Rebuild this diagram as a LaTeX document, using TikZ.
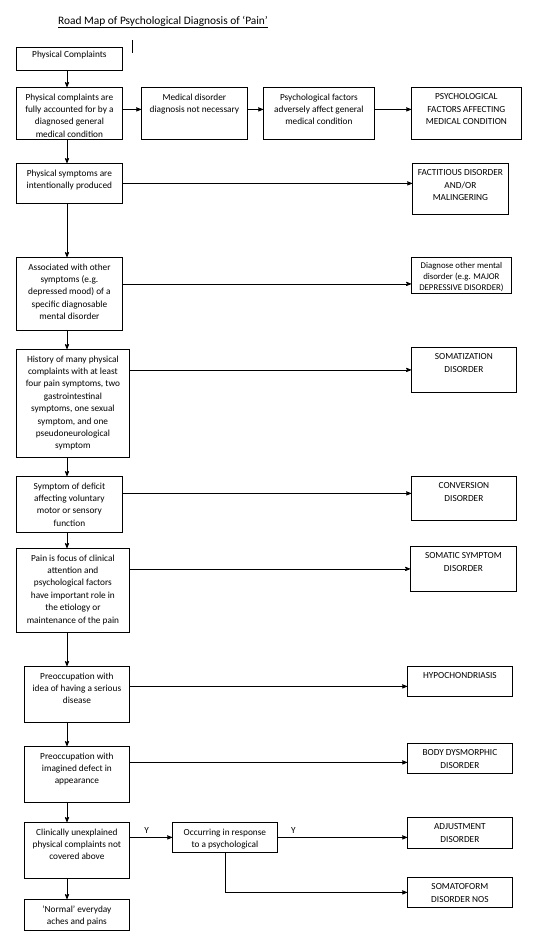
\documentclass[tikz,border=0pt]{standalone}
\usepackage{fontspec}
\setmainfont{Carlito}
\usetikzlibrary{arrows}
\tikzset{
    box/.style 2 args={
        draw,
        line width=0.8pt,
        minimum width=#1pt,
        minimum height=#2pt,
        anchor=north west,
        inner sep=0pt},
    txt/.style={
        anchor=north,
        align=center,
        inner xsep=2pt,
        inner ysep=6.5pt,
        font=\fontsize{9.3}{12.4}\selectfont},
    every edge/.style={
        draw,
        ->,>=stealth',
        line width=0.8pt}}

\begin{document}
\begin{tikzpicture}[x=1pt,y=-1pt]
    \useasboundingbox (0,0) rectangle (535,938);
    \node[anchor=west, inner sep=0pt, font=\fontsize{11.4}{14}\selectfont] (title) at (58,22) {\underline{Road Map of Psychological Diagnosis of ‘Pain’}};
    \draw[line width=0.8pt] (132,40) -- (132,53);
    \coordinate (spine) at (67,0);

    % top row
    \node[box={106}{23}, label={[txt, inner ysep=4pt]north:{Physical Complaints}}] (pc) at (16,47) {};
    \node[box={106}{52}, label={[txt]north:{Physical complaints are\\fully accounted for by a\\diagnosed general\\medical condition}}] (acc) at (16,87) {};
    \node[box={106}{52}, label={[txt]north:{Medical disorder\\diagnosis not necessary}}] (med) at (141,87) {};
    \node[box={111}{52}, label={[txt]north:{Psychological factors\\adversely affect general\\medical condition}}] (psy) at (263,87) {};
    \node[box={110}{52}, label={[txt]north:{PSYCHOLOGICAL\\FACTORS AFFECTING\\MEDICAL CONDITION}}] (pfmc) at (411,87) {};

    % left column
    \node[box={106}{40}, label={[txt]north:{Physical symptoms are\\intentionally produced}}] (int) at (16,163) {};
    \node[box={106}{73}, label={[txt]north:{Associated with other\\symptoms (e.g.\\depressed mood) of a\\specific diagnosable\\mental disorder}}] (assoc) at (16,257) {};
    \node[box={113}{108}, label={[txt]north:{History of many physical\\complaints with at least\\four pain symptoms, two\\gastrointestinal\\symptoms, one sexual\\symptom, and one\\pseudoneurological\\symptom}}] (hist) at (16,349) {};
    \node[box={106}{56}, label={[txt]north:{Symptom of deficit\\affecting voluntary\\motor or sensory\\function}}] (def) at (16,476) {};
    \node[box={113}{84}, label={[txt]north:{Pain is focus of clinical\\attention and\\psychological factors\\have important role in\\the etiology or\\maintenance of the pain}}] (pain) at (16,548) {};
    \node[box={105}{56}, label={[txt]north:{Preoccupation with\\idea of having a serious\\disease}}] (idea) at (24,666) {};
    \node[box={105}{56}, label={[txt]north:{Preoccupation with\\imagined defect in\\appearance}}] (img) at (24,746) {};
    \node[box={105}{56}, label={[txt]north:{Clinically unexplained\\physical complaints not\\covered above}}] (cli) at (24,822) {};
    \node[box={105}{31}, label={[txt]north:{‘Normal’ everyday\\aches and pains}}] (norm) at (24,899) {};
    \node[box={105}{30}, label={[txt]north:{Occurring in response\\to a psychological}}] (occ) at (172,822) {};

    % diagnoses
    \node[box={96}{51}, label={[txt]north:{FACTITIOUS DISORDER\\AND/OR\\MALINGERING}}] (fact) at (412,163) {};
    \node[box={100}{36}, label={[txt, inner ysep=5pt, font=\fontsize{8.8}{11.2}\selectfont]north:{Diagnose other mental\\disorder (e.g. MAJOR\\DEPRESSIVE DISORDER)}}] (diag) at (411,257) {};
    \node[box={105}{45}, label={[txt]north:{SOMATIZATION\\DISORDER}}] (somz) at (411,347) {};
    \node[box={105}{44}, label={[txt]north:{CONVERSION\\DISORDER}}] (conv) at (411,476) {};
    \node[box={106}{45}, label={[txt]north:{SOMATIC SYMPTOM\\DISORDER}}] (som) at (410,546) {};
    \node[box={105}{30}, label={[txt]north:{HYPOCHONDRIASIS}}] (hyp) at (407,666) {};
    \node[box={105}{30}, label={[txt]north:{BODY DYSMORPHIC\\DISORDER}}] (bdd) at (407,743) {};
    \node[box={105}{31}, label={[txt]north:{ADJUSTMENT\\DISORDER}}] (adj) at (407,817) {};
    \node[box={105}{30}, label={[txt]north:{SOMATOFORM\\DISORDER NOS}}] (nos) at (407,877) {};

    % down the left
    \draw (pc.south -| spine) edge (acc.north -| spine);
    \draw (acc.south -| spine) edge (int.north -| spine);
    \draw (int.south -| spine) edge (assoc.north -| spine);
    \draw (assoc.south -| spine) edge (hist.north -| spine);
    \draw (hist.south -| spine) edge (def.north -| spine);
    \draw (def.south -| spine) edge (pain.north -| spine);
    \draw (pain.south -| spine) edge (idea.north -| spine);
    \draw (idea.south -| spine) edge (img.north -| spine);
    \draw (img.south -| spine) edge (cli.north -| spine);
    \draw (cli.south -| spine) edge (norm.north -| spine);

    % across
    \draw ([yshift=4pt]acc.east) edge ([yshift=4pt]med.west);
    \draw ([yshift=4pt]med.east) edge ([yshift=4pt]psy.west);
    \draw ([yshift=4pt]psy.east) edge ([yshift=4pt]pfmc.west);
    \draw (int.east) edge (int.east -| fact.west);
    \draw ([yshift=10pt]assoc.east) edge ([yshift=10pt]assoc.east -| diag.west);
    \draw (hist.east |- somz.west) edge (somz.west);
    \draw ([yshift=5pt]def.east |- conv.west) edge ([yshift=5pt]conv.west);
    \draw (pain.east |- som.west) edge (som.west);
    \draw ([yshift=-5pt]idea.east |- hyp.west) edge ([yshift=-5pt]hyp.west);
    \draw ([yshift=-4pt]img.east |- bdd.west) edge ([yshift=-4pt]bdd.west);
    \draw (cli.east |- occ.west) edge node[above, pos=0.4, font=\fontsize{9.3}{12}\selectfont] {Y} (occ.west);
    \draw (occ.east) edge node[above, pos=0.12, font=\fontsize{9.3}{12}\selectfont] {Y} (occ.east -| adj.west);
    \draw (occ.south) edge[to path={|- (\tikztotarget)}] node[left, pos=0.3, font=\fontsize{9.3}{12}\selectfont] {N} (nos.west);
\end{tikzpicture}
\end{document}
